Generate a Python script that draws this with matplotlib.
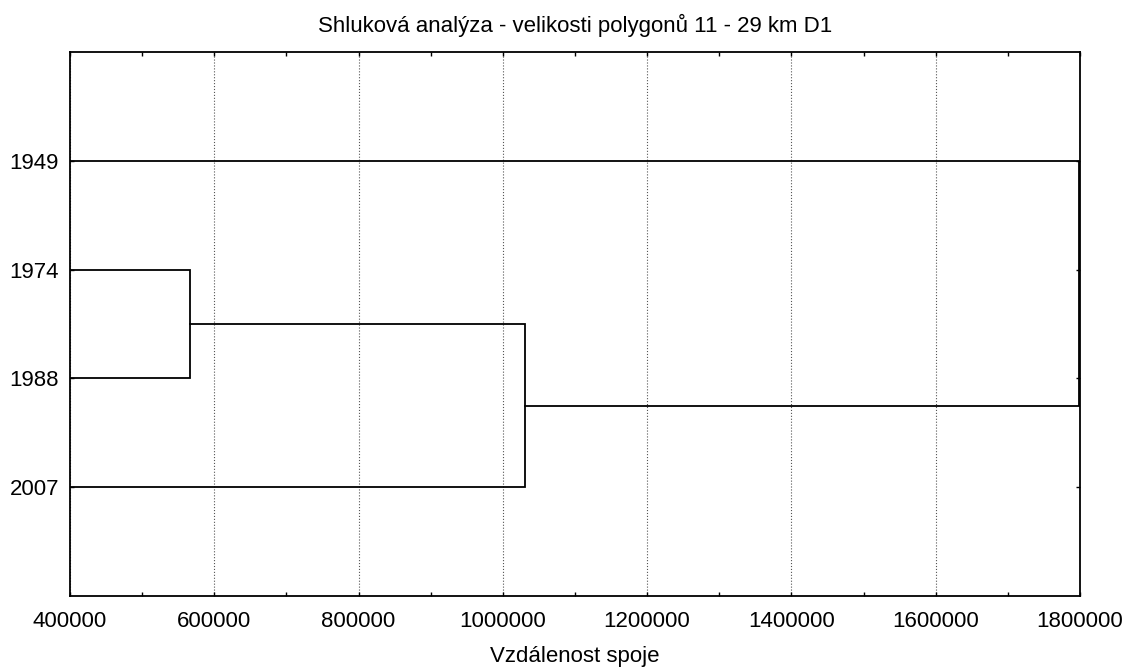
import matplotlib
matplotlib.use("Agg")
import matplotlib.pyplot as plt
from matplotlib.ticker import MultipleLocator

plt.rcParams['font.family'] = ['Liberation Sans', 'DejaVu Sans']

# listy (roky) v poradi shora dolu
roky = ["1949", "1974", "1988", "2007"]

# spojeni shluku: (levy clen, pravy clen, vzdalenost spoje)
# clen je bud index listu, nebo ("s", cislo predchoziho spoje)
spoje = [
    (1, 2, 566000),
    (("s", 0), 3, 1030500),
    (0, ("s", 1), 1799000),
]

xmin, xmax = 400000, 1800000


def pozice(clen, stav):
    # vrati (y, x) pro list nebo predchozi shluk
    if isinstance(clen, tuple):
        return stav[clen[1]]
    return clen + 1, xmin


fig = plt.figure(figsize=(11.24, 6.69), dpi=100)
ax = fig.add_axes([0.0623, 0.1091, 0.8985, 0.8132])

stav = []
for a, b, d in spoje:
    ya, xa = pozice(a, stav)
    yb, xb = pozice(b, stav)
    ax.plot([xa, d, d, xb], [ya, ya, yb, yb], color='black', lw=1.3,
            solid_joinstyle='miter', zorder=3)
    stav.append(((ya + yb) / 2, d))

ax.set_xlim(xmin, xmax)
ax.set_ylim(5, 0)
ax.set_yticks(range(1, len(roky) + 1))
ax.set_yticklabels(roky)
ax.xaxis.set_major_locator(MultipleLocator(200000))
ax.xaxis.set_minor_locator(MultipleLocator(100000))
ax.xaxis.set_major_formatter(plt.FuncFormatter(lambda v, p: f"{int(v)}"))

ax.tick_params(axis='both', which='both', direction='in', top=True, right=True,
               length=3, width=1, labelsize=16)
ax.tick_params(axis='x', pad=11)
ax.tick_params(axis='y', pad=8)
ax.grid(True, axis='x', which='major', linestyle=':', color='#555555', lw=0.8)

for s in ax.spines.values():
    s.set_linewidth(1.3)

ax.set_title("Shluková analýza - velikosti polygonů 11 - 29 km D1", fontsize=16, pad=14.5)
ax.set_xlabel("Vzdálenost spoje", fontsize=16, labelpad=10)

fig.savefig("out.png", dpi=100)
